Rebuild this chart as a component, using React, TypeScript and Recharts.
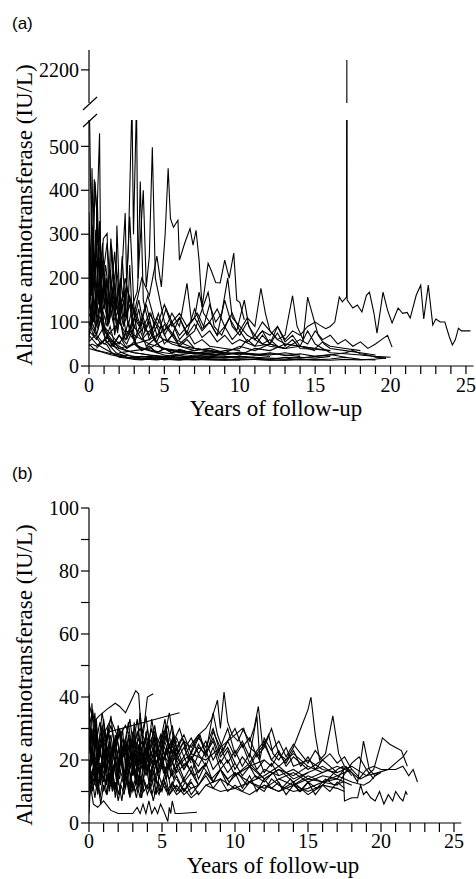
import { LineChart, Line, XAxis, YAxis } from 'recharts';

type Pt = { t: number; v: number };
const toPts = (s: number[][]): Pt[] => s.map(([t, v]) => ({ t, v }));

const serif = '"Liberation Serif", "Times New Roman", serif';
const sans = '"Liberation Sans", Arial, sans-serif';

// tick positions / labels
const yearTicks = [0, 1, 2, 3, 4, 5, 6, 7, 8, 9, 10, 11, 12, 13, 14, 15, 16, 17, 18, 19, 20, 21, 22, 23, 24, 25];
const altTicksTop = [2200];
const altTicksA = [0, 100, 200, 300, 400, 500];
const altTicksB = [0, 10, 20, 30, 40, 50, 60, 70, 80, 90, 100];

// ---- panel (a): [years, ALT IU/L] per patient ----
const a01 = [[0, 600], [0.05, 540], [0.1, 420], [0.25, 180], [0.4, 420], [0.6, 300], [0.8, 150], [1, 90], [1.3, 60], [1.6, 45], [2, 40], [2.5, 35], [3, 30], [3.5, 28], [4, 25], [5, 22], [6, 24], [7, 20], [8, 22], [9, 20], [10, 18], [11, 20]];
const a02 = [[0, 150], [0.2, 90], [0.4, 200], [0.7, 530], [0.8, 120], [0.9, 80], [1.1, 60], [1.4, 45], [1.8, 30], [2.2, 25], [2.6, 18], [3, 20], [3.5, 15], [4, 18], [4.5, 15], [5, 20], [6, 18], [7, 15], [8, 20], [9, 18], [10, 22], [11, 20], [12, 18], [13, 16], [14, 20], [15, 18], [16, 22]];
const a03 = [[0, 100], [0.3, 70], [0.6, 120], [1, 80], [1.3, 150], [1.6, 100], [2, 130], [2.3, 90], [2.6, 260], [2.85, 600], [2.95, 300], [3.15, 600], [3.25, 200], [3.4, 420], [3.6, 150], [3.8, 120], [4, 90], [4.3, 60], [4.7, 45], [5, 40], [5.5, 35], [6, 30], [7, 28], [8, 25], [9, 22], [10, 20]];
const a04 = [[0, 250], [0.3, 180], [0.6, 300], [0.9, 200], [1.2, 280], [1.5, 150], [1.8, 230], [2.1, 140], [2.5, 180], [3, 120], [3.5, 200], [4, 160], [4.5, 250], [4.8, 180], [5.05, 300], [5.25, 450], [5.4, 336], [5.6, 316], [5.9, 332], [6.0, 241], [6.35, 280], [6.7, 313], [6.9, 275], [7.1, 309], [7.3, 241], [7.5, 134], [7.9, 234], [8.1, 218], [8.4, 190], [8.7, 189], [9.0, 241], [9.3, 200], [9.6, 257], [9.8, 150], [10.0, 145], [10.3, 105]];
const a05 = [[0, 120], [0.4, 80], [0.8, 140], [1.2, 90], [1.6, 160], [2, 110], [2.4, 200], [2.8, 130], [3.2, 170], [3.6, 400], [3.8, 180], [4.0, 250], [4.2, 498], [4.4, 200], [4.7, 150], [5, 100], [5.4, 80], [5.8, 60], [6.3, 50], [7, 40], [8, 35], [9, 30], [10, 28], [11, 25], [12, 28], [13, 25], [14, 22]];
const a06 = [[0, 300], [0.15, 160], [0.35, 425], [0.5, 360], [0.7, 200], [0.9, 280], [1.1, 150], [1.4, 220], [1.7, 120], [2.0, 180], [2.3, 90], [2.7, 140], [3, 70], [3.5, 60], [4, 50], [4.5, 45], [5, 40], [6, 35], [7, 30], [8, 32], [9, 28]];
const a07 = [[0, 200], [0.2, 120], [0.45, 310], [0.65, 140], [0.95, 290], [1.2, 302], [1.35, 120], [1.5, 270], [1.75, 110], [1.85, 320], [2.05, 130], [2.4, 348], [2.55, 100], [2.7, 230], [2.9, 90], [3.3, 150], [3.7, 80], [4.1, 120], [4.5, 70], [5, 60], [5.5, 50], [6, 45], [6.5, 40], [7, 35]];
const a08 = [[0, 60], [0.3, 160], [0.6, 90], [0.9, 240], [1.2, 100], [1.45, 290], [1.8, 130], [2.1, 200], [2.4, 110], [2.7, 340], [3.0, 120], [3.4, 90], [3.8, 140], [4.2, 80], [4.6, 120], [5, 70], [5.5, 100], [6, 60], [6.5, 80], [7, 50], [7.5, 60], [8, 45], [9, 40], [10, 35]];
const a09 = [[0, 45], [0.2, 50], [0.5, 45], [0.8, 55], [1.2, 48], [1.5, 30], [2, 20], [2.5, 18], [3, 15], [3.5, 14], [4, 16], [5, 15], [6, 14], [7, 16], [8, 15], [9, 14], [10, 16], [11, 15], [12, 14], [13, 13], [14, 15], [15, 14], [16, 13], [17, 15], [18, 14], [19, 16], [19.7, 18]];
const a10 = [[0, 80], [0.5, 60], [1, 90], [1.5, 70], [2, 50], [2.5, 80], [3, 60], [3.5, 100], [4, 70], [4.5, 110], [5, 80], [5.5, 120], [6, 90], [6.5, 188], [6.8, 100], [7.2, 120], [7.6, 90], [8, 140], [8.4, 100], [8.8, 120], [9.2, 200], [9.5, 110], [10, 90], [10.5, 70], [11, 60], [11.5, 50], [12, 45], [13, 40]];
const a11 = [[0, 100], [0.5, 70], [1, 50], [1.5, 60], [2, 40], [3, 50], [4, 60], [5, 80], [5.5, 100], [6, 70], [6.5, 90], [7, 110], [7.3, 168], [7.6, 120], [8, 100], [8.5, 130], [9, 90], [9.5, 120], [10, 80], [10.5, 110], [11, 90], [11.4, 177], [11.7, 120], [12, 80], [12.5, 60], [13, 50], [14, 45], [15, 40], [16, 35]];
const a12 = [[2, 30], [3, 35], [4, 40], [5, 60], [6, 50], [7, 80], [7.9, 168], [8.3, 90], [8.8, 70], [9.3, 110], [9.8, 80], [10.3, 150], [10.6, 90], [11, 70], [11.5, 100], [12, 80], [12.5, 60], [13, 70], [13.5, 160], [13.8, 90], [14.2, 60], [14.5, 157], [14.8, 120], [15.2, 70], [15.6, 50], [16, 40], [17, 35], [18, 30], [19, 25]];
const a13 = [[11, 60], [11.5, 80], [12, 70], [12.5, 90], [13, 60], [13.5, 80], [14, 70], [14.5, 90], [15, 100], [15.3, 93], [15.7, 85], [16, 90], [16.3, 100], [16.6, 157], [16.8, 146], [17.08, 157], [17.1, 2230], [17.12, 150], [17.5, 132], [17.8, 139], [18.1, 123], [18.4, 161], [18.6, 168], [18.9, 120], [19.1, 75], [19.5, 168], [19.8, 127], [20.1, 98], [20.5, 132], [20.8, 120], [21.1, 122], [21.3, 109], [21.7, 161], [22.0, 184], [22.2, 107], [22.5, 184], [22.8, 93], [23.0, 107], [23.3, 100], [23.6, 100], [23.9, 66], [24.1, 48], [24.3, 60], [24.5, 86], [24.7, 80], [25, 80], [25.3, 80]];
const a14 = [[6, 30], [7, 35], [8, 40], [9, 30], [10, 45], [11, 35], [12, 50], [13, 40], [14, 60], [14.5, 50], [15, 80], [15.5, 60], [16, 70], [16.5, 50], [17, 60], [17.5, 45], [18, 55], [18.5, 40], [19, 50], [19.4, 60], [19.8, 70], [20.1, 43]];
const a15 = [[3, 20], [4, 22], [5, 18], [6, 20], [7, 22], [8, 18], [9, 20], [10, 22], [11, 18], [12, 15], [13, 20], [14, 18], [15, 22], [16, 25], [17, 30], [17.5, 35], [18, 28], [18.5, 25], [19, 20], [19.7, 18]];
const a16 = [[0, 70], [0.5, 50], [1, 40], [1.5, 30], [2, 25], [2.5, 20], [3, 18], [3.5, 22], [4, 20], [4.5, 18], [5, 15], [5.5, 18], [6, 20], [7, 25], [8, 22], [9, 30], [10, 25], [11, 40], [12, 35], [13, 50], [14, 45], [15, 40], [15.5, 55], [16, 45], [17, 40], [18, 35]];
const a17 = [[0, 150], [0.3, 100], [0.6, 180], [1, 80], [1.4, 60], [1.8, 40], [2.2, 30], [2.6, 25], [3, 20], [3.5, 18], [4, 15], [4.5, 17], [5, 14], [5.5, 16], [6, 15], [7, 14], [8, 16], [9, 15], [10, 14]];
const a18 = [[0, 90], [0.25, 130], [0.5, 70], [0.8, 110], [1.1, 60], [1.4, 90], [1.7, 50], [2, 70], [2.5, 40], [3, 55], [3.5, 35], [4, 45], [4.5, 30], [5, 40], [5.5, 30], [6, 35], [7, 30], [8, 28], [9, 25], [10, 30], [11, 28], [12, 25], [13, 30], [14, 25]];
const a19 = [[0, 350], [0.1, 200], [0.2, 450], [0.3, 250], [0.45, 180], [0.6, 120], [0.8, 150], [1, 90], [1.3, 70], [1.6, 55], [2, 45], [2.5, 35], [3, 30], [4, 25], [5, 20], [6, 18], [7, 20], [8, 17]];
const a20 = [[0.5, 40], [1, 60], [1.5, 80], [2, 100], [2.5, 70], [3, 110], [3.5, 80], [4, 120], [4.5, 90], [5, 140], [5.5, 100], [6, 120], [6.5, 90], [7, 110], [7.5, 80], [8, 100], [8.5, 70], [9, 90], [9.5, 60], [10, 80], [10.5, 55], [11, 70], [11.5, 50], [12, 60], [12.5, 45], [13, 40]];
const a21 = [[0, 50], [0.3, 40], [0.6, 35], [1, 30], [1.5, 25], [2, 22], [2.5, 20], [3, 18], [3.5, 16], [4, 15], [4.5, 14], [5, 16], [5.5, 15], [6, 14], [6.5, 16], [7, 15], [8, 14], [9, 13], [10, 14], [11, 15], [12, 13], [13, 14], [14, 15], [15, 14], [16, 16], [17, 20], [18, 15], [19, 14]];
const a22 = [[0, 220], [0.2, 160], [0.5, 240], [0.75, 130], [1.0, 200], [1.3, 100], [1.6, 180], [1.9, 80], [2.2, 140], [2.5, 60], [2.8, 90], [3.1, 50], [3.5, 40], [4, 35], [4.5, 30], [5, 25], [5.5, 22], [6, 20], [7, 18]];
const a23 = [[0, 180], [0.15, 90], [0.3, 260], [0.5, 110], [0.7, 330], [0.85, 150], [1.05, 210], [1.25, 90], [1.5, 160], [1.7, 70], [2, 120], [2.3, 60], [2.6, 100], [3, 55], [3.4, 80], [3.8, 45], [4.3, 60], [4.8, 40], [5.5, 35], [6.5, 30], [7.5, 28], [8.5, 25]];
const a24 = [[0, 130], [0.2, 200], [0.4, 100], [0.6, 270], [0.8, 120], [1.0, 180], [1.3, 95], [1.6, 140], [1.9, 75], [2.2, 250], [2.45, 110], [2.7, 160], [3, 85], [3.3, 130], [3.6, 70], [4, 100], [4.4, 60], [4.8, 90], [5.2, 55], [5.6, 75], [6, 45], [6.5, 60], [7, 40], [8, 35], [9, 30], [10, 28], [11, 25], [12, 22]];
const a25 = [[0, 75], [0.3, 110], [0.6, 85], [1, 140], [1.3, 95], [1.7, 190], [2.0, 100], [2.3, 150], [2.7, 80], [3.0, 130], [3.4, 95], [3.9, 160], [4.3, 110], [4.7, 85], [5.1, 130], [5.5, 90], [6, 110], [6.5, 70], [7, 95], [7.5, 65], [8, 80], [8.5, 55], [9, 70], [9.5, 50], [10, 60], [11, 45], [12, 50], [13, 40], [14, 45], [15, 35]];
const a26 = [[1, 60], [1.5, 45], [2, 70], [2.5, 50], [3, 90], [3.5, 60], [4, 80], [4.5, 55], [5, 95], [5.5, 70], [6, 110], [6.5, 75], [7, 130], [7.5, 85], [8, 100], [8.5, 70], [9, 150], [9.5, 90], [10, 70], [10.5, 100], [11, 60], [11.5, 80], [12, 50], [12.5, 75], [13, 45], [13.5, 60], [14, 40], [15, 38], [16, 35]];
const a27 = [[0, 40], [0.5, 35], [1, 32], [1.5, 28], [2, 25], [2.5, 24], [3, 22], [4, 20], [5, 22], [6, 25], [7, 30], [8, 28], [9, 35], [10, 40], [10.5, 60], [11, 45], [11.5, 70], [12, 50], [12.5, 90], [13, 55], [13.5, 70], [14, 45], [14.5, 80], [15, 50], [15.5, 40], [16, 30], [17, 28], [18, 25], [19, 22], [20, 20]];
const a28 = [[0, 280], [0.1, 150], [0.25, 320], [0.4, 200], [0.55, 380], [0.7, 180], [0.85, 250], [1.0, 130], [1.15, 200], [1.3, 100], [1.5, 160], [1.7, 80], [2, 110], [2.4, 60], [2.8, 80], [3.2, 45], [3.7, 40], [4.2, 35], [5, 30], [6, 25]];
const a29 = [[0, 55], [0.4, 70], [0.8, 50], [1.2, 65], [1.6, 45], [2, 55], [2.5, 40], [3, 50], [3.5, 35], [4, 45], [4.5, 30], [5, 40], [5.5, 30], [6, 38], [7, 28], [8, 35], [9, 26], [10, 32], [11, 25], [12, 30], [13, 24], [14, 28], [15, 22], [16, 26], [17, 20]];
const a30 = [[0.2, 100], [0.5, 170], [0.8, 120], [1.1, 230], [1.4, 140], [1.7, 260], [2.0, 120], [2.3, 170], [2.6, 90], [2.9, 140], [3.2, 75], [3.6, 110], [4.0, 60], [4.5, 90], [5, 50], [5.5, 70], [6, 45], [7, 40], [8, 35]];

const panelA = [a01, a02, a03, a04, a05, a06, a07, a08, a09, a10, a11, a12, a13, a14, a15, a16, a17, a18, a19, a20, a21, a22, a23, a24, a25, a26, a27, a28, a29, a30];
const panelATop = [a13];

// ---- panel (b): [years, ALT IU/L] per patient ----
const b01 = [[0, 38], [0.3, 32], [0.7, 34], [1.2, 36], [1.8, 38], [2.1, 37], [2.5, 35], [2.9, 39], [3.2, 42], [3.4, 41], [3.6, 28], [3.8, 32], [4.0, 40], [4.4, 41]];
const b02 = [[0, 26], [0.4, 20], [0.8, 24], [1.4, 29], [6.2, 35]];
const b03 = [[0, 3], [0.1, 12], [0.3, 6], [0.6, 5], [1, 7], [1.5, 4], [2, 3], [2.5, 3], [3, 3], [3.3, 5], [3.5, 3], [3.7, 6], [3.9, 3], [4.1, 7], [4.3, 3], [4.5, 5], [4.7, 3], [4.9, 6], [5.1, 4], [5.4, 0.5], [5.5, 5], [5.6, 3], [5.7, 7], [5.9, 3], [6.2, 3], [7.4, 3.4]];
const b04 = [[12, 12], [13, 10], [14, 12], [15, 10], [16, 12], [17, 17], [17.4, 18], [17.5, 7], [18, 8], [18.4, 8], [18.6, 12], [18.8, 9], [19, 10], [19.3, 8], [19.6, 7], [19.9, 10], [20.2, 6], [20.5, 9], [20.8, 7], [21, 10], [21.3, 8], [21.5, 7], [21.7, 10], [21.8, 9]];
const b05 = [[10, 15], [11, 18], [12, 14], [13, 17], [14, 15], [15, 18], [16, 16], [17, 18], [18, 16], [18.5, 14], [19, 17], [19.5, 18], [20, 17], [20.5, 17], [21, 17], [21.5, 18], [21.9, 15], [22.2, 17], [22.5, 13]];
const b06 = [[14, 12], [15, 14], [16, 13], [17, 15], [18, 13], [18.8, 12], [19.2, 13], [19.8, 16], [20.5, 17], [21, 19], [21.5, 21], [21.8, 23]];
const b07 = [[12, 15], [13, 18], [14, 14], [15, 16], [16, 18], [17, 15], [18, 17], [18.6, 14], [19, 15], [19.5, 17], [20.1, 27], [20.6, 25], [21.0, 24], [21.4, 23], [21.8, 18]];
const b08 = [[13, 14], [14, 16], [15, 13], [16, 15], [17, 14], [17.6, 18], [18, 16], [18.4, 13], [18.8, 26], [19.2, 17], [19.6, 15], [20, 16]];
const b09 = [[11, 18], [12, 20], [12.5, 18], [13, 22], [13.5, 20], [14, 24], [14.5, 30], [15, 36], [15.2, 40], [15.5, 28], [15.8, 20], [16.2, 22], [16.7, 34], [17.1, 22], [17.5, 18], [18, 15]];
const b10 = [[5, 20], [5.5, 24], [6, 22], [6.5, 26], [7, 24], [7.5, 28], [8, 30], [8.4, 33], [8.8, 39], [9.0, 30], [9.25, 41.6], [9.5, 32], [9.8, 28], [10.2, 26], [10.6, 30], [11, 24], [11.5, 22], [12, 25], [12.5, 20], [13, 18], [14, 22], [15, 18]];
const b11 = [[6, 18], [7, 22], [8, 20], [9, 24], [10, 28], [10.5, 30], [11, 26], [11.3, 30], [11.6, 37], [11.9, 24], [12.3, 28], [12.6, 22], [13, 20], [13.5, 24], [14, 18], [15, 20], [16, 17], [17, 16]];
const b12 = [[0, 35], [0.15, 18], [0.3, 28], [0.45, 14], [0.6, 24], [0.8, 12], [1, 22], [1.2, 16], [1.4, 26], [1.6, 14], [1.8, 20], [2, 12], [2.2, 24], [2.4, 15], [2.6, 22], [2.8, 11], [3, 19], [3.2, 14], [3.4, 25], [3.6, 13], [3.8, 21], [4, 16], [4.3, 27], [4.6, 18], [4.9, 23], [5.2, 15], [5.5, 20], [5.8, 14], [6.1, 18]];
const b13 = [[0, 12], [0.2, 30], [0.35, 16], [0.5, 33], [0.7, 20], [0.9, 29], [1.1, 17], [1.3, 31], [1.5, 19], [1.7, 27], [1.9, 13], [2.1, 23], [2.3, 30], [2.5, 17], [2.7, 28], [2.9, 20], [3.1, 32], [3.3, 18], [3.5, 26], [3.7, 16], [3.9, 29], [4.1, 19], [4.4, 24], [4.7, 15], [5, 22], [5.3, 28], [5.6, 19], [6, 24], [6.5, 18], [7, 21], [7.5, 16], [8, 19]];
const b14 = [[0, 20], [0.25, 10], [0.5, 18], [0.75, 8], [1, 15], [1.25, 9], [1.5, 17], [1.75, 10], [2, 14], [2.25, 7], [2.5, 16], [2.75, 9], [3, 13], [3.25, 8], [3.5, 15], [3.75, 10], [4, 12], [4.3, 9], [4.6, 14], [4.9, 10], [5.2, 13], [5.5, 9], [5.8, 12], [6.2, 10], [6.6, 13], [7, 11], [7.5, 12]];
const b15 = [[0, 28], [0.2, 22], [0.4, 35], [0.6, 19], [0.8, 27], [1, 21], [1.3, 30], [1.6, 22], [1.9, 28], [2.2, 19], [2.5, 26], [2.8, 33], [3.1, 22], [3.4, 27], [3.7, 20], [4, 25], [4.3, 30], [4.6, 21], [4.9, 26], [5.2, 33], [5.5, 24], [5.8, 28], [6.1, 22], [6.5, 26], [7, 20], [7.5, 24], [8, 22], [8.5, 27], [9, 21], [9.5, 24], [10, 19]];
const b16 = [[0, 16], [0.2, 24], [0.4, 12], [0.6, 20], [0.8, 15], [1, 25], [1.2, 13], [1.4, 19], [1.6, 11], [1.8, 21], [2, 16], [2.2, 27], [2.4, 14], [2.6, 18], [2.8, 25], [3, 15], [3.2, 20], [3.4, 12], [3.6, 22], [3.8, 17], [4, 26], [4.2, 14], [4.4, 19], [4.6, 13], [4.8, 22], [5, 17], [5.3, 24], [5.6, 15], [6, 20], [6.5, 14], [7, 18], [7.5, 12], [8, 16], [8.5, 13], [9, 17], [9.5, 14], [10, 16], [11, 13], [12, 15]];
const b17 = [[0, 41], [0.1, 22], [0.2, 38], [0.35, 25], [0.5, 31], [0.7, 22], [0.9, 26], [1.1, 18], [1.3, 24], [1.5, 20], [1.8, 26], [2.1, 18], [2.4, 22], [2.7, 16], [3, 21], [3.3, 17], [3.6, 23], [3.9, 15], [4.2, 20], [4.5, 17], [4.8, 22], [5.1, 16], [5.4, 19], [5.7, 15], [6, 17]];
const b18 = [[0, 10], [0.2, 15], [0.4, 8], [0.6, 14], [0.8, 6], [1, 12], [1.2, 9], [1.4, 16], [1.6, 10], [1.8, 13], [2, 7], [2.2, 12], [2.4, 9], [2.6, 15], [2.8, 8], [3, 12], [3.2, 10], [3.4, 14], [3.6, 8], [3.8, 13], [4, 9], [4.2, 12], [4.4, 7], [4.6, 11], [4.8, 9], [5, 13], [5.3, 10], [5.6, 12], [6, 9], [6.5, 11], [7, 8], [7.5, 10]];
const b19 = [[0, 24], [0.3, 30], [0.6, 22], [0.9, 35], [1.2, 26], [1.5, 31], [1.8, 24], [2.1, 29], [2.4, 21], [2.7, 27], [3, 24], [3.3, 33], [3.6, 22], [3.9, 28], [4.2, 24], [4.5, 31], [4.8, 22], [5.1, 29], [5.4, 25], [5.7, 31], [6, 23], [6.4, 27], [6.8, 20], [7.2, 25], [7.6, 28], [8, 22], [8.5, 26], [9, 19], [9.5, 23], [10, 17], [10.5, 21], [11, 18], [11.5, 22], [12, 16], [12.5, 19], [13, 15]];
const b20 = [[0, 15], [0.2, 20], [0.4, 17], [0.7, 23], [1, 18], [1.3, 22], [1.6, 16], [1.9, 21], [2.2, 19], [2.5, 24], [2.8, 17], [3.1, 22], [3.4, 18], [3.7, 21], [4, 17], [4.4, 20], [4.8, 16], [5.2, 21], [5.6, 18], [6, 22], [6.5, 17], [7, 21], [7.5, 18], [8, 23], [8.5, 17], [9, 20], [9.5, 16], [10, 19], [10.5, 15], [11, 18], [11.5, 14], [12, 17], [13, 15], [14, 17], [15, 14], [16, 16]];
const b21 = [[0, 8], [0.3, 14], [0.6, 10], [0.9, 18], [1.2, 12], [1.5, 20], [1.8, 11], [2.1, 17], [2.4, 13], [2.7, 19], [3, 11], [3.3, 16], [3.6, 12], [3.9, 18], [4.2, 11], [4.5, 15], [4.8, 10], [5.1, 14], [5.4, 9], [5.7, 13], [6, 10], [6.5, 14], [7, 9], [7.5, 12]];
const b22 = [[0.5, 18], [1, 14], [1.5, 22], [2, 18], [2.5, 26], [3, 20], [3.5, 24], [4, 18], [4.5, 22], [5, 26], [5.5, 20], [6, 24], [6.5, 28], [7, 22], [7.5, 27], [8, 24], [8.5, 30], [9, 22], [9.5, 26], [10, 21], [10.5, 25], [11, 19], [11.5, 23], [12, 26], [12.5, 20], [13, 23], [13.5, 18], [14, 21], [15, 17], [16, 20], [17, 16], [18, 18], [19, 15], [19.8, 16]];
const b23 = [[3, 15], [3.5, 20], [4, 17], [4.5, 23], [5, 19], [5.5, 24], [6, 21], [6.5, 17], [7, 21], [7.5, 14], [8, 19], [8.5, 13], [9, 17], [9.5, 12], [10, 16], [10.5, 11], [11, 15], [11.5, 10], [12, 14], [12.5, 11], [13, 13], [13.5, 9], [14, 12], [14.5, 10], [15, 13], [15.5, 9], [16, 12], [16.5, 10], [17, 13], [17.5, 11]];
const b24 = [[2, 20], [2.5, 16], [3, 22], [3.5, 17], [4, 21], [4.5, 15], [5, 19], [5.5, 14], [6, 18], [6.5, 13], [7, 16], [7.5, 12], [8, 15], [8.5, 11], [9, 14], [9.5, 10], [10, 12], [10.5, 10], [11, 13], [12, 11], [13, 14], [14, 12], [15, 15], [16, 13], [17, 14], [18, 12]];
const b25 = [[0, 30], [0.25, 36], [0.5, 26], [0.75, 32], [1, 24], [1.3, 29], [1.6, 21], [1.9, 27], [2.2, 20], [2.5, 25], [2.8, 18], [3.1, 23], [3.4, 19], [3.7, 26], [4, 20], [4.3, 33], [4.6, 24], [4.9, 28], [5.2, 21], [5.5, 25], [5.8, 20], [6.2, 23]];
const b26 = [[4, 25], [4.5, 20], [5, 28], [5.5, 22], [6, 27], [6.5, 21], [7, 25], [7.5, 28], [8, 22], [8.5, 35], [8.8, 28], [9.2, 23], [9.6, 27], [10, 30], [10.5, 24], [11, 27], [11.5, 21], [12, 24], [12.5, 30], [13, 22], [13.5, 19], [14, 23], [14.5, 18], [15, 21], [15.5, 17], [16, 20]];
const b27 = [[0, 14], [0.4, 19], [0.8, 15], [1.2, 21], [1.6, 17], [2, 23], [2.4, 16], [2.8, 20], [3.2, 26], [3.6, 19], [4, 23], [4.4, 18], [4.8, 21], [5.2, 17], [5.6, 20], [6, 16], [6.6, 19], [7.2, 15], [7.8, 18], [8.4, 14], [9, 17], [9.6, 13], [10.2, 16], [10.8, 12], [11.4, 15], [12, 13], [12.6, 16], [13.2, 11], [13.8, 14], [14.4, 10], [15, 13], [15.6, 11], [16.2, 14], [16.8, 12], [17.4, 13]];
const b28 = [[6, 14], [6.5, 10], [7, 13], [7.5, 9], [8, 12], [9, 10], [10, 11], [11, 9], [12, 12], [13, 10], [14, 13], [15, 9], [16, 12], [17, 11], [17.5, 10]];
const b29 = [[1, 28], [1.5, 33], [2, 27], [2.5, 31], [3, 25], [3.5, 30], [4, 24], [4.5, 29], [5, 23], [5.5, 35], [5.8, 26], [6.2, 30], [6.6, 24], [7, 27], [7.5, 22], [8, 26], [8.5, 20], [9, 24], [9.5, 19], [10, 23], [10.5, 18], [11, 22], [11.5, 17], [12, 20]];
const b30 = [[0, 22], [0.15, 30], [0.3, 17], [0.45, 27], [0.6, 14], [0.75, 25], [0.9, 19], [1.05, 31], [1.2, 16], [1.35, 24], [1.5, 13], [1.65, 22], [1.8, 28], [2, 17], [2.2, 23], [2.4, 12], [2.6, 21], [2.8, 27], [3, 16], [3.2, 24], [3.4, 19], [3.6, 30], [3.8, 18], [4, 23], [4.2, 13], [4.4, 21], [4.6, 28], [4.8, 17], [5, 22], [5.3, 14], [5.6, 21], [6, 16]];
const b31 = [[0, 18], [0.2, 12], [0.4, 22], [0.6, 9], [0.8, 19], [1, 13], [1.2, 24], [1.4, 10], [1.6, 18], [1.8, 8], [2, 16], [2.2, 22], [2.4, 11], [2.6, 17], [2.8, 9], [3, 20], [3.2, 12], [3.4, 18], [3.6, 10], [3.8, 16], [4, 21], [4.2, 11], [4.4, 17], [4.6, 9], [4.8, 15], [5, 12], [5.3, 18], [5.6, 11], [6, 15], [6.5, 10], [7, 14]];
const b32 = [[0, 33], [0.2, 26], [0.4, 30], [0.6, 23], [0.9, 31], [1.2, 25], [1.5, 34], [1.8, 22], [2.1, 30], [2.4, 24], [2.7, 32], [3, 21], [3.3, 29], [3.6, 25], [3.9, 34], [4.2, 23], [4.5, 28], [4.8, 20], [5.1, 27], [5.4, 31], [5.7, 22], [6, 26]];
const b33 = [[0, 13], [0.3, 17], [0.6, 11], [0.9, 21], [1.2, 15], [1.5, 12], [1.8, 19], [2.1, 14], [2.4, 25], [2.7, 16], [3, 21], [3.3, 13], [3.6, 18], [3.9, 24], [4.2, 16], [4.5, 20], [4.8, 14], [5.1, 23], [5.4, 17], [5.7, 26], [6, 18], [6.5, 21], [7, 16], [7.5, 22], [8, 18], [8.5, 24], [9, 17], [9.5, 20], [10, 15], [11, 19], [12, 14], [13, 17], [14, 13], [15, 16]];
const b34 = [[7, 20], [7.5, 25], [8, 21], [8.5, 29], [9, 24], [9.5, 30], [10, 22], [10.5, 26], [11, 21], [11.5, 34], [11.7, 20], [12, 27], [12.5, 23], [13, 26], [13.5, 21], [14, 25], [14.5, 22], [15, 19], [15.5, 23], [16, 20], [16.5, 22], [17, 19], [17.5, 21], [18, 17]];
const b35 = [[8, 12], [9, 14], [10, 11], [11, 13], [12, 10], [12.5, 14], [13, 12], [14, 10], [15, 11], [16, 13], [17, 12], [18, 19], [18.5, 21], [19, 17], [19.5, 14]];
const b36 = [[0, 26], [0.25, 19], [0.5, 29], [0.75, 21], [1, 33], [1.25, 23], [1.5, 28], [1.75, 19], [2, 31], [2.25, 23], [2.5, 27], [2.75, 20], [3, 29], [3.25, 22], [3.5, 35], [3.75, 24], [4, 30], [4.25, 21], [4.5, 27], [4.75, 19], [5, 25], [5.25, 31], [5.5, 21], [5.75, 27], [6, 20], [6.5, 24], [7, 19]];
const b37 = [[0, 11], [0.25, 16], [0.5, 13], [0.75, 19], [1, 10], [1.25, 15], [1.5, 12], [1.75, 18], [2, 9], [2.25, 14], [2.5, 11], [2.75, 17], [3, 10], [3.25, 13], [3.5, 8], [3.75, 14], [4, 11], [4.25, 16], [4.5, 9], [4.75, 13], [5, 10], [5.25, 15], [5.5, 9], [6, 12], [6.5, 9], [7, 11]];

const panelB = [b01, b02, b03, b04, b05, b06, b07, b08, b09, b10, b11, b12, b13, b14, b15, b16, b17, b18, b19, b20, b21, b22, b23, b24, b25, b26, b27, b28, b29, b30, b31, b32, b33, b34, b35, b36, b37];

const axisStroke = { stroke: '#000', strokeWidth: 1.2 };
const everyFive = (v: number) => (v % 5 === 0 ? String(v) : '');
const everyTwenty = (v: number) => (v % 20 === 0 ? String(v) : '');
const plain = (v: number) => String(v);

// serif tick labels drawn by hand so the font is certain
const yTick = (fmt: (v: number) => string) => (props: any) => {
  const { x, y, payload } = props;
  return (
    <text x={x} y={y} dy="0.36em" textAnchor="end" fontFamily={serif} fontSize={20} fill="#000">
      {fmt(payload.value)}
    </text>
  );
};
const xTick = (fmt: (v: number) => string) => (props: any) => {
  const { x, y, payload } = props;
  return (
    <text x={x} y={y} dy="0.72em" textAnchor="middle" fontFamily={serif} fontSize={20} fill="#000">
      {fmt(payload.value)}
    </text>
  );
};

const lineProps = {
  type: 'linear' as const,
  dataKey: 'v',
  stroke: '#000',
  strokeWidth: 1.1,
  dot: false,
  activeDot: false,
  isAnimationActive: false,
};

export default function App() {
  return (
    <div style={{ position: 'absolute', left: 0, top: 0, width: 476, height: 879, background: '#fff', fontFamily: serif }}>
      {/* (a) top segment of broken axis */}
      <div style={{ position: 'absolute', left: 0, top: 40 }}>
        <LineChart width={476} height={70} margin={{ top: 10, right: 2.5, bottom: 7, left: 0 }}>
          <XAxis type="number" dataKey="t" domain={[0, 25.5]} hide allowDataOverflow />
          <YAxis
            type="number"
            domain={[2100, 2260]}
            ticks={altTicksTop}
            width={89}
            allowDataOverflow
            tick={yTick(plain)}
            tickSize={8}
            tickMargin={2}
            axisLine={axisStroke}
            tickLine={axisStroke}
            interval={0}
          />
          {panelATop.map((s, i) => (
            <Line key={i} {...lineProps} data={toPts(s)} />
          ))}
        </LineChart>
      </div>

      {/* (a) lower segment */}
      <div style={{ position: 'absolute', left: 0, top: 110 }}>
        <LineChart width={476} height={290} margin={{ top: 10, right: 2.5, bottom: 0, left: 0 }}>
          <XAxis
            type="number"
            dataKey="t"
            domain={[0, 25.5]}
            ticks={yearTicks}
            interval={0}
            height={34}
            tick={xTick(everyFive)}
            tickSize={8}
            tickMargin={4}
            axisLine={axisStroke}
            tickLine={axisStroke}
            allowDataOverflow
          />
          <YAxis
            type="number"
            domain={[0, 560]}
            ticks={altTicksA}
            width={89}
            allowDataOverflow
            tick={yTick(plain)}
            tickSize={8}
            tickMargin={2}
            axisLine={axisStroke}
            tickLine={axisStroke}
            interval={0}
          />
          {panelA.map((s, i) => (
            <Line key={i} {...lineProps} data={toPts(s)} />
          ))}
        </LineChart>
      </div>

      {/* (b) */}
      <div style={{ position: 'absolute', left: 0, top: 498 }}>
        <LineChart width={476} height={355} margin={{ top: 10, right: 14.7, bottom: 0, left: 0 }}>
          <XAxis
            type="number"
            dataKey="t"
            domain={[0, 25.5]}
            ticks={yearTicks}
            interval={0}
            height={30}
            tick={xTick(everyFive)}
            tickSize={9}
            tickMargin={2}
            axisLine={axisStroke}
            tickLine={axisStroke}
            allowDataOverflow
          />
          <YAxis
            type="number"
            domain={[0, 100]}
            ticks={altTicksB}
            width={89}
            allowDataOverflow
            tick={yTick(everyTwenty)}
            tickSize={8}
            tickMargin={2}
            axisLine={axisStroke}
            tickLine={axisStroke}
            interval={0}
          />
          {panelB.map((s, i) => (
            <Line key={i} {...lineProps} data={toPts(s)} />
          ))}
        </LineChart>
      </div>

      {/* titles, axis titles and the axis break */}
      <svg width={476} height={879} style={{ position: 'absolute', left: 0, top: 0, pointerEvents: 'none' }}>
        <text x={12} y={29} fontFamily={sans} fontSize={17} fill="#000">(a)</text>
        <text x={12} y={479} fontFamily={sans} fontSize={17} fill="#000">(b)</text>
        <line x1={83} y1={110} x2={97} y2={97} stroke="#000" strokeWidth={1.2} />
        <line x1={83} y1={127} x2={97} y2={114} stroke="#000" strokeWidth={1.2} />
        <text x={24} y={215} transform="rotate(-90 24 215)" textAnchor="middle" dominantBaseline="central" fontFamily={serif} fontSize={23} fill="#000">
          Alanine aminotransferase (IU/L)
        </text>
        <text x={24} y={675} transform="rotate(-90 24 675)" textAnchor="middle" dominantBaseline="central" fontFamily={serif} fontSize={23} fill="#000">
          Alanine aminotransferase (IU/L)
        </text>
        <text x={276} y={416} textAnchor="middle" fontFamily={serif} fontSize={23} fill="#000">Years of follow-up</text>
        <text x={273} y={873} textAnchor="middle" fontFamily={serif} fontSize={23} fill="#000">Years of follow-up</text>
      </svg>
    </div>
  );
}
